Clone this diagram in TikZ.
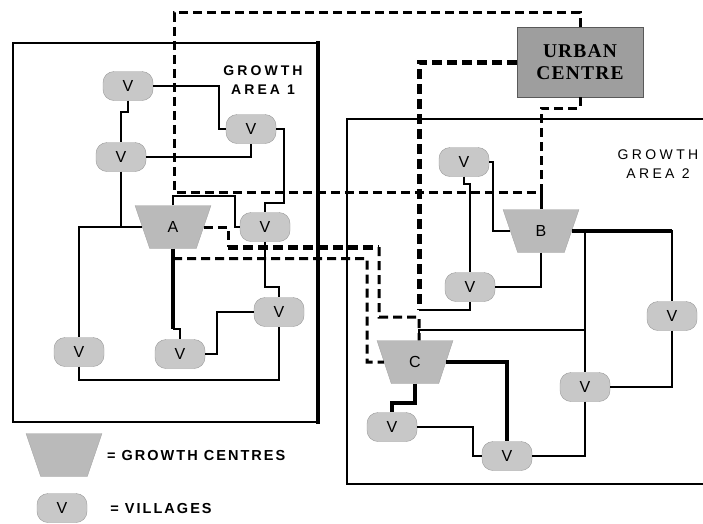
\documentclass[tikz,border=0pt]{standalone}
\usepackage{fontspec}
\setmainfont{Liberation Sans}
\newfontfamily\urbanfont[LetterSpace=6]{Liberation Serif}
\usetikzlibrary{positioning,shapes.geometric}

\definecolor{villagefill}{RGB}{200,200,200}
\definecolor{centrefill}{RGB}{186,186,186}
\definecolor{urbanfill}{RGB}{158,158,158}

\begin{document}
\begin{tikzpicture}[
        x=1pt, y=-1pt,
        every node/.style={align=center},
        village/.style={rectangle, draw=black!40, fill=villagefill, rounded corners=11pt, minimum width=50pt, minimum height=29pt, inner sep=0pt, font=\fontsize{16}{16}\selectfont},
        centre/.style={trapezium, trapezium left angle=107, trapezium right angle=107, trapezium stretches, draw=black!35, fill=centrefill, minimum width=76pt, minimum height=43pt, inner sep=0pt, font=\fontsize{16}{16}\selectfont},
        urbanbox/.style={rectangle, draw=black!65, fill=urbanfill, minimum width=126pt, minimum height=70pt, font=\urbanfont\bfseries\fontsize{19.5}{22}\selectfont},
        arealabel/.style={font=\addfontfeature{LetterSpace=24}\fontsize{14}{19}\selectfont},
        legendlabel/.style={font=\bfseries\addfontfeature{LetterSpace=14}\fontsize{14.5}{14.5}\selectfont, anchor=west, inner sep=0pt},
        link/.style={line width=2pt},
        mainlink/.style={line width=4pt},
        route/.style={line width=3pt, dash pattern=on 9pt off 5pt},
        mainroute/.style={line width=5pt, dash pattern=on 10pt off 5pt}
    ]
    \useasboundingbox (0,0) rectangle (703,523);

    % Growth area frames
    \draw[line width=2pt] (318,43) -- (13,43) -- (13,422) -- (318,422);
    \draw[line width=4.5pt] (318,41) -- (318,424);
    \draw[line width=2pt] (703,119) -- (347,119) -- (347,484) -- (703,484);
    \node[arealabel, font=\bfseries\addfontfeature{LetterSpace=22}\fontsize{14}{19}\selectfont] (area1) at (263,80) {GROWTH\\AREA 1};
    \node[arealabel] (area2) at (658,164) {GROWTH\\AREA 2};

    % Urban centre
    \node[urbanbox] (urban) at (580,62) {URBAN\\CENTRE};

    % Growth area 1
    \node[village] (v1) at (128,86) {V};
    \node[village] (v2) at (251,129) {V};
    \node[village] (v3) at (121,157) {V};
    \node[centre] (ga) at (173,227) {A};
    \node[village] (v4) at (265,227) {V};
    \node[village] (v5) at (279,312) {V};
    \node[village] (v6) at (79,352) {V};
    \node[village] (v7) at (180,354) {V};

    % Growth area 2
    \node[village] (v8) at (464,162) {V};
    \node[centre] (gb) at (541,231) {B};
    \node[village] (v9) at (470,287) {V};
    \node[centre] (gc) at (415,362) {C};
    \node[village] (v10) at (672,316) {V};
    \node[village] (v11) at (585,387) {V};
    \node[village] (v12) at (392,427) {V};
    \node[village] (v13) at (507,456) {V};

    % Legend
    \node[centre] (legcentre) at (64,455) {\phantom{A}};
    \node[legendlabel, right=12pt of legcentre] (legcentretext) {= GROWTH CENTRES};
    \node[village] (legvillage) at (62,508) {V};
    \node[legendlabel, right=23pt of legvillage] (legvillagetext) {= VILLAGES};

    % Links to the urban centre
    \draw[route] (urban.north) -- ++(0,-14) -| (174,192) -| (gb.north);
    \draw[route] (urban.south) -- ++(0,11) -| (gb.north);
    \coordinate (jv9) at (419,310);
    \draw[mainroute] (urban.west) -| (jv9);

    % Links between growth centres
    \draw[route] (ga.east) -| (228,247);
    \draw[mainroute] (228,247) -- (379,247);
    \draw[route] (379,247) |- (419,317) -- ([xshift=4pt]gc.north);
    \draw[route] ([yshift=-10pt]ga.south) -| (367,362) -- (gc.west);

    % Roads in growth area 1
    \draw[link] (v1.south) -- ++(0,11) -| (v3.north);
    \draw[link] (v1.east) -- ++(66,0) |- (v2.west);
    \draw[link] (v3.east) -| (v2.south);
    \draw[link] (v2.east) -| (284,203) -| (v4.north);
    \draw[link] (v3.south) -- (v3.south |- ga.west);
    \draw[link] (ga.west) -| (v6.north);
    \draw[link] (ga.north) |- (235,196) |- (v4.west);
    \draw[mainlink] (ga.south) -- ++(0,80) coordinate (a7);
    \draw[link] (a7) -| (v7.north);
    \draw[link] (v4.south) -- ++(0,45) -| (v5.north);
    \draw[link] (v7.east) -- ++(12,0) |- (v5.west);
    \draw[link] (v6.south) -- ++(0,13) -| (v5.south);

    % Roads in growth area 2
    \draw[link] (jv9) -| (v9.south);
    \draw[link] (v8.south) -- ++(0,7) -| (v9.north);
    \draw[link] (v8.east) -- ++(4,0) |- (gb.west);
    \draw[link] (gb.south) |- (v9.east);
    \draw[link] (gb.east) -| (v10.north);
    \draw[mainlink] (gb.east) -- (gb.east -| v10.north);
    \draw[link] (gb.east -| v11.north) -- (v11.north);
    \draw[link] ([xshift=4pt]gc.north) -- ++(0,-10) -| (v11.north);
    \draw[link] (v10.south) |- (v11.east);
    \draw[link] (v11.south) |- (v13.east);
    \draw[mainlink] (gc.east) -| (v13.north);
    \draw[mainlink] (gc.south) -- ++(0,19) -| (v12.north);
    \draw[link] (v12.east) -- ++(56,0) |- (v13.west);

\end{tikzpicture}
\end{document}
